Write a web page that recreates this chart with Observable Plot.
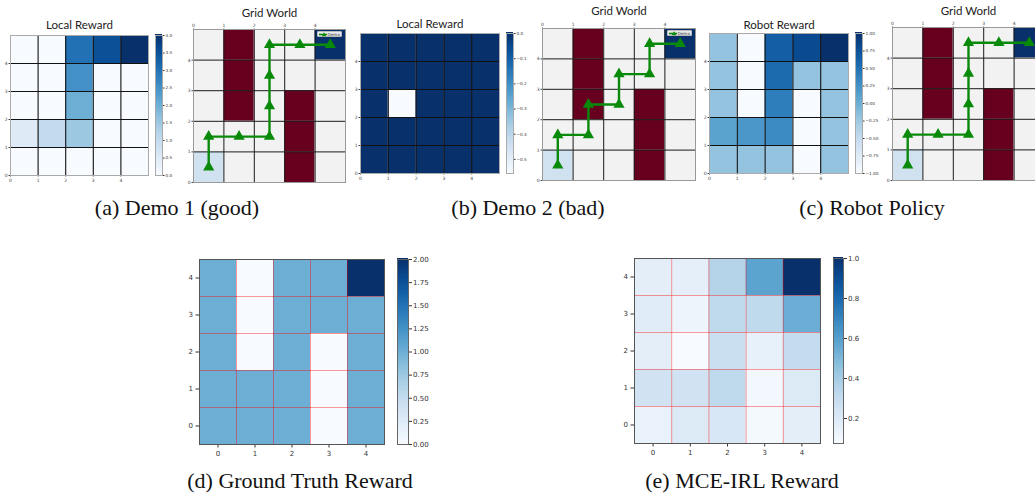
<!DOCTYPE html>
<html>
<head>
<meta charset="utf-8">
<script src="https://cdn.jsdelivr.net/npm/d3@7"></script>
<script src="https://cdn.jsdelivr.net/npm/@observablehq/plot@0.6"></script>
<style>
  html, body { margin: 0; padding: 0; background: #fff; }
  #fig { position: relative; width: 1035px; height: 494px; overflow: hidden; background: #fff; }
  .cap { position: absolute; font-family: "Liberation Serif", "Times New Roman", serif; font-size: 22px; color: #111; white-space: nowrap; transform: translate(-50%, -50%); }
  .legend { position: absolute; height: 6px; background: rgba(245,245,245,0.95); border: 0.5px solid #bbb; border-radius: 1px; font-family: "DejaVu Sans", sans-serif; font-size: 4.2px; color: #333; display: flex; align-items: center; padding: 0 1px; box-sizing: border-box; }
</style>
</head>
<body>
<div id="fig"></div>
<script>
// ---------------- DATA ----------------
const tickVals = [0, 1, 2, 3, 4];

// grids listed from top row (y = 4) to bottom row (y = 0)
const demo1Reward = [
  [0, 0, 3.0, 3.5, 4.0],
  [0, 0, 2.5, 0, 0],
  [0, 0, 2.0, 0, 0],
  [0.5, 1.0, 1.5, 0, 0],
  [0, 0, 0, 0, 0]
];
const demo2Reward = [
  [0, 0, 0, 0, 0],
  [0, 0, 0, 0, 0],
  [0, -0.556, 0, 0, 0],
  [0, 0, 0, 0, 0],
  [0, 0, 0, 0, 0]
];
const robotReward = [
  [-0.2, -1, 0.65, 0.8, 1.0],
  [-0.2, -1, 0.55, -0.2, -0.2],
  [-0.2, -1, 0.4, -1, -0.2],
  [0.1, 0.2, 0.3, -1, -0.2],
  [-0.2, -0.2, -0.2, -1, -0.2]
];
const groundTruthReward = [
  [1, 0, 1, 1, 2],
  [1, 0, 1, 1, 1],
  [1, 0, 1, 0, 1],
  [1, 1, 1, 0, 1],
  [1, 1, 1, 0, 1]
];
const mceIrlReward = [
  [0.17, 0.16, 0.35, 0.58, 1.0],
  [0.18, 0.12, 0.32, 0.32, 0.54],
  [0.17, 0.075, 0.28, 0.15, 0.30],
  [0.25, 0.25, 0.32, 0.10, 0.20],
  [0.14, 0.20, 0.22, 0.09, 0.17]
];
// 0 empty, 1 obstacle, 2 goal, 3 start
const worldCells = [
  [0, 1, 0, 0, 2],
  [0, 1, 0, 0, 0],
  [0, 1, 0, 1, 0],
  [0, 0, 0, 1, 0],
  [3, 0, 0, 1, 0]
];
const cellTypeColors = ["#f2f2f2", "#67001f", "#08306b", "#d0e2f0"];

const demo1PathX = [0.5, 0.5, 1.5, 2.5, 2.5, 2.5, 2.5, 3.5, 4.5];
const demo1PathY = [0.5, 1.5, 1.5, 1.5, 2.5, 3.5, 4.5, 4.5, 4.5];
const demo2PathX = [0.5, 0.5, 1.5, 1.5, 2.5, 2.5, 3.5, 3.5, 4.5];
const demo2PathY = [0.5, 1.5, 1.5, 2.5, 2.5, 3.5, 3.5, 4.5, 4.5];
const robotPathX = [0.5, 0.5, 1.5, 2.5, 2.5, 2.5, 2.5, 3.5, 4.5];
const robotPathY = [0.5, 1.5, 1.5, 1.5, 2.5, 3.5, 4.5, 4.5, 4.5];

const cbTicksA = [0, 0.5, 1, 1.5, 2, 2.5, 3, 3.5, 4];
const cbTicksB = [0, -0.1, -0.2, -0.3, -0.4, -0.5];
const cbTicksC = [-1, -0.75, -0.5, -0.25, 0, 0.25, 0.5, 0.75, 1];
const cbTicksD = [0, 0.25, 0.5, 0.75, 1, 1.25, 1.5, 1.75, 2];
const cbTicksE = [0.2, 0.4, 0.6, 0.8, 1.0];

const captions = ["(a) Demo 1 (good)", "(b) Demo 2 (bad)", "(c) Robot Policy", "(d) Ground Truth Reward", "(e) MCE-IRL Reward"];

// ---------------- HELPERS ----------------
const fig = document.getElementById("fig");
const toCells = grid => grid.flatMap((r, i) => r.map((v, j) => ({col: j, row: grid.length - 1 - i, v})));
const toPath = (xs, ys) => xs.map((x, i) => ({x, y: ys[i]}));
const extent = grid => d3.extent(grid.flat());
const intFmt = d3.format("d");

function place(svg, fl, ft, ml, mt) {
  svg.style.position = "absolute";
  svg.style.left = (fl - ml) + "px";
  svg.style.top = (ft - mt) + "px";
  svg.style.maxWidth = "none";
  svg.style.background = "transparent";
  svg.style.overflow = "visible";
  fig.appendChild(svg);
}

function titleMark(title, dy) {
  return Plot.text([title], {text: d => d, frameAnchor: "top", lineAnchor: "middle", dy, fontSize: 11.5, fontFamily: "Lato, sans-serif", fill: "#222"});
}

function smallHeat(grid, domain, box, title, titleDy) {
  const [x0, y0, x1, y1] = box, ml = 14, mt = 22, mr = 4, mb = 12;
  const svg = Plot.plot({
    width: (x1 - x0) + ml + mr, height: (y1 - y0) + mt + mb,
    marginLeft: ml, marginRight: mr, marginTop: mt, marginBottom: mb,
    style: {fontFamily: "DejaVu Sans, sans-serif", fontSize: "4.5px", color: "#444", background: "transparent"},
    x: {domain: [0, 5], ticks: tickVals, tickFormat: intFmt, tickSize: 1.5, tickPadding: 1.5, label: null},
    y: {domain: [0, 5], ticks: tickVals, tickFormat: intFmt, tickSize: 1.5, tickPadding: 1.5, label: null},
    color: {type: "linear", scheme: "blues", domain},
    marks: [
      Plot.rect(toCells(grid), {x1: "col", x2: d => d.col + 1, y1: "row", y2: d => d.row + 1, fill: "v"}),
      Plot.ruleX([1, 2, 3, 4], {stroke: "#111", strokeWidth: 1.1}),
      Plot.ruleY([1, 2, 3, 4], {stroke: "#111", strokeWidth: 1.1}),
      Plot.frame({stroke: "#aaa"}),
      titleMark(title, titleDy)
    ]
  });
  place(svg, x0, y0, ml, mt);
}

function colorbar(domain, ticks, fmt, box, fontSize, tickSize, stroke) {
  const [x0, y0, x1, y1] = box, ml = 2, mt = 6, mr = 30, mb = 6;
  const n = 150, dv = (domain[1] - domain[0]) / n;
  const steps = d3.range(n).map(i => domain[0] + dv * i);
  const svg = Plot.plot({
    width: (x1 - x0) + ml + mr, height: (y1 - y0) + mt + mb,
    marginLeft: ml, marginRight: mr, marginTop: mt, marginBottom: mb,
    style: {fontFamily: "DejaVu Sans, sans-serif", fontSize: fontSize + "px", color: "#333", background: "transparent"},
    x: {domain: [0, 1], axis: null},
    y: {domain, axis: "right", ticks, tickFormat: d3.format(fmt), tickSize, tickPadding: 1.5, label: null},
    color: {type: "linear", scheme: "blues", domain},
    marks: [
      Plot.rect(steps, {x1: 0, x2: 1, y1: d => d, y2: d => d + dv * 2, fill: d => d + dv / 2, shapeRendering: "crispEdges"}),
      Plot.frame({stroke, strokeWidth: 1})
    ]
  });
  place(svg, x0, y0, ml, mt);
}

function gridWorld(path, box, titleDy, legend) {
  const [x0, y0, x1, y1] = box, ml = 10, mt = 24, mr = 4, mb = 6;
  const svg = Plot.plot({
    width: (x1 - x0) + ml + mr, height: (y1 - y0) + mt + mb,
    marginLeft: ml, marginRight: mr, marginTop: mt, marginBottom: mb,
    style: {fontFamily: "DejaVu Sans, sans-serif", fontSize: "4.5px", color: "#444", background: "transparent"},
    x: {domain: [0, 5], axis: "top", ticks: tickVals, tickFormat: intFmt, tickSize: 1.5, tickPadding: 1, label: null},
    y: {domain: [0, 5], ticks: tickVals, tickFormat: intFmt, tickSize: 1.5, tickPadding: 1.5, label: null},
    color: {type: "ordinal", domain: [0, 1, 2, 3], range: cellTypeColors},
    marks: [
      Plot.rect(toCells(worldCells), {x1: "col", x2: d => d.col + 1, y1: "row", y2: d => d.row + 1, fill: "v"}),
      Plot.ruleX([1, 2, 3, 4], {stroke: "#1a1a1a", strokeWidth: 1}),
      Plot.ruleY([1, 2, 3, 4], {stroke: "#1a1a1a", strokeWidth: 1}),
      Plot.frame({stroke: "#999"}),
      Plot.line(path, {x: "x", y: "y", stroke: "#0a8a0a", strokeWidth: 2.4}),
      Plot.dot(path, {x: "x", y: "y", symbol: "triangle", fill: "#0a8a0a", stroke: "#0a8a0a", r: 3.2}),
      titleMark("Grid World", titleDy)
    ]
  });
  place(svg, x0, y0, ml, mt);
  if (legend) {
    const lg = document.createElement("div");
    lg.className = "legend";
    lg.style.left = (x1 - 28) + "px";
    lg.style.top = (y0 + 2) + "px";
    lg.style.width = "25px";
    lg.innerHTML = '<svg width="10" height="5" style="margin-right:1px"><line x1="0" y1="2.5" x2="10" y2="2.5" stroke="#0a8a0a" stroke-width="1.6"/><path d="M5,0.3 L7.3,4.3 L2.7,4.3 Z" fill="#0a8a0a"/></svg><span>Demo</span>';
    fig.appendChild(lg);
  }
}

function bigHeat(grid, domain, box) {
  const [x0, y0, x1, y1] = box, ml = 24, mt = 8, mr = 4, mb = 20;
  const svg = Plot.plot({
    width: (x1 - x0) + ml + mr, height: (y1 - y0) + mt + mb,
    marginLeft: ml, marginRight: mr, marginTop: mt, marginBottom: mb,
    style: {fontFamily: "DejaVu Sans, sans-serif", fontSize: "7px", color: "#333", background: "transparent"},
    x: {domain: [-0.5, 4.5], ticks: tickVals, tickFormat: intFmt, tickSize: 3.5, tickPadding: 3, label: null},
    y: {domain: [-0.5, 4.5], ticks: tickVals, tickFormat: intFmt, tickSize: 3.5, tickPadding: 3, label: null},
    color: {type: "linear", scheme: "blues", domain},
    marks: [
      Plot.rect(toCells(grid), {x1: d => d.col - 0.5, x2: d => d.col + 0.5, y1: d => d.row - 0.5, y2: d => d.row + 0.5, fill: "v"}),
      Plot.ruleX([0.5, 1.5, 2.5, 3.5], {stroke: "red", strokeOpacity: 0.4, strokeWidth: 1}),
      Plot.ruleY([0.5, 1.5, 2.5, 3.5], {stroke: "red", strokeOpacity: 0.4, strokeWidth: 1}),
      Plot.frame({stroke: "#555", strokeWidth: 1})
    ]
  });
  place(svg, x0, y0, ml, mt);
}

// ---------------- TOP ROW ----------------
smallHeat(demo1Reward, [0, 4], [10, 35, 148, 175], "Local Reward", -10);
colorbar([0, 4], cbTicksA, ".1f", [155, 35, 162, 175], 4.2, 1.5, "#aaa");
gridWorld(toPath(demo1PathX, demo1PathY), [193, 29, 345, 182], -16, true);

smallHeat(demo2Reward, extent(demo2Reward), [360, 33, 499, 173], "Local Reward", -9);
colorbar(extent(demo2Reward), cbTicksB, ".1f", [506, 33, 513, 173], 4.2, 1.5, "#aaa");
gridWorld(toPath(demo2PathX, demo2PathY), [542, 28, 695, 180], -17, true);

smallHeat(robotReward, [-1, 1], [709, 33, 848, 173], "Robot Reward", -8);
colorbar([-1, 1], cbTicksC, ".2f", [855, 33, 862, 173], 4.2, 1.5, "#aaa");
gridWorld(toPath(robotPathX, robotPathY), [892, 27, 1044, 180], -16, false);

// ---------------- BOTTOM ROW ----------------
bigHeat(groundTruthReward, [0, 2], [199, 259, 384, 444]);
colorbar([0, 2], cbTicksD, ".2f", [397, 259, 408, 444], 7, 3, "#666");

bigHeat(mceIrlReward, extent(mceIrlReward), [634, 258, 820, 443]);
colorbar(extent(mceIrlReward), cbTicksE, ".1f", [833, 258, 843, 443], 7, 3, "#666");

// ---------------- CAPTIONS ----------------
const capPos = [[177, 208], [528, 208], [872, 208], [300, 481], [742, 481]];
captions.forEach((t, i) => {
  const d = document.createElement("div");
  d.className = "cap";
  d.textContent = t;
  d.style.left = capPos[i][0] + "px";
  d.style.top = capPos[i][1] + "px";
  fig.appendChild(d);
});
</script>
</body>
</html>
